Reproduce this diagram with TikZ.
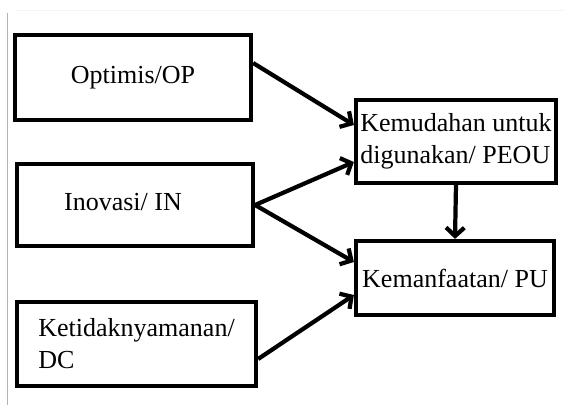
\documentclass[tikz,border=0pt]{standalone}
\usepackage{fontspec}
\setmainfont{Liberation Serif}
\usetikzlibrary{arrows.meta,positioning}

\begin{document}
\begin{tikzpicture}[
  every node/.style={font=\fontsize{18.5}{22.7}\selectfont},
  box/.style={draw, line width=3pt, inner sep=0pt, align=left},
  link/.style={-{Straight Barb[length=6pt,width=13pt]}, line width=3pt},
  >=Latex
]

\useasboundingbox (0,0) rectangle (14.1,-10.125);

%% ---- page edge ------------------------------------------------------
\draw[gray!60, line width=0.8pt] (0.1875,-0.325) -- (0.1875,-10.125);
\draw[gray!8, line width=0.6pt] (0.375,-0.25) -- (14.1,-0.25);

%% ---- factors (left) -------------------------------------------------
\node[box, minimum width=5.9cm, minimum height=2.125cm] (op)
     at (3.325,-1.9375) {Optimis/OP};
\node[box, minimum width=5.9cm, minimum height=2.05cm] (in)
     at (3.375,-5.125) {\raisebox{4pt}{Inovasi/ IN}\hspace*{0.6cm}};
\node[box, minimum width=5.975cm, minimum height=2.1cm] (dc)
     at (3.4125,-8.6) {Ketidaknyamanan/\\DC};

%% ---- outcomes (right) -----------------------------------------------
\node[box, minimum width=5.0cm, minimum height=2.075cm] (peou)
     at (11.4,-3.5375) {Kemudahan untuk\\digunakan/ PEOU};
\node[box, minimum width=4.95cm, minimum height=1.85cm] (pu)
     at (11.375,-6.95) {Kemanfaatan/ PU};

%% ---- paths ----------------------------------------------------------
\draw[link] ([yshift=0.3625cm]op.east) -- ([yshift=0.4125cm]peou.west);
\draw[link] (in.east) -- ([yshift=-0.5125cm]peou.west);
\draw[link] (in.east) -- ([yshift=0.4cm]pu.west);
\draw[link] ([yshift=-0.375cm]dc.east) -- ([yshift=-0.425cm]pu.west);
\draw[link] (peou.south) -- (pu.north);

\end{tikzpicture}
\end{document}
